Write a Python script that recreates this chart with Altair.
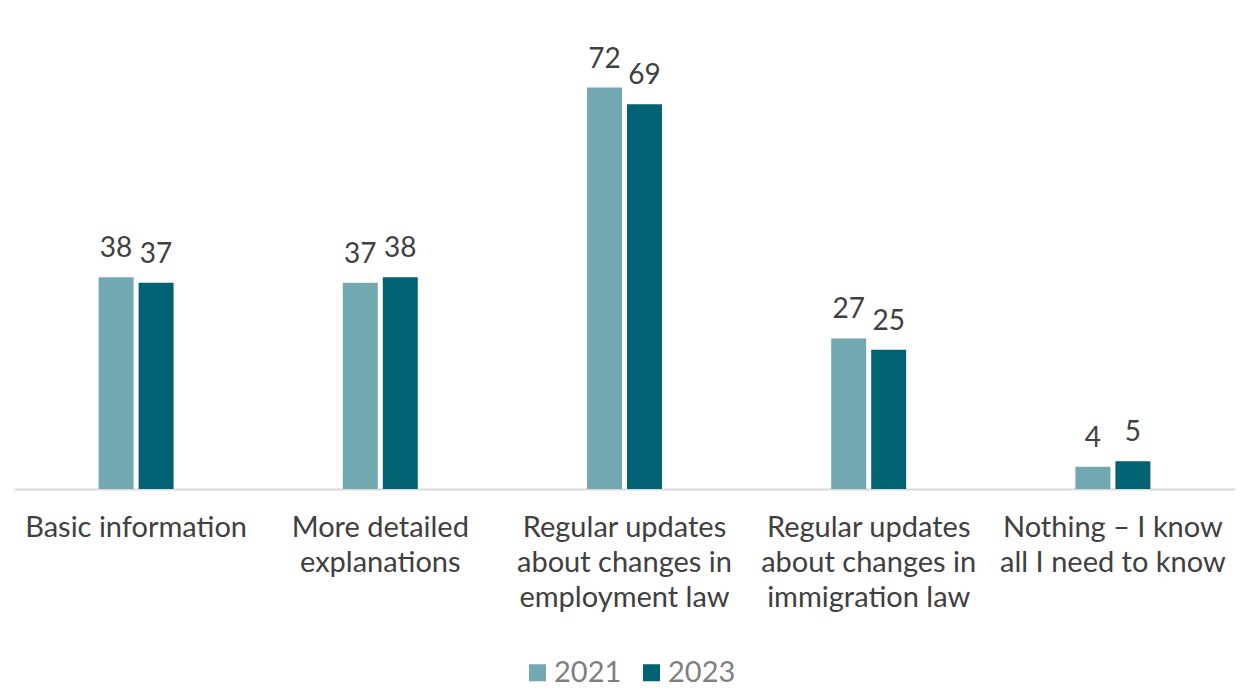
import altair as alt
import pandas as pd

categories = [
    "Basic information",
    "More detailed|explanations",
    "Regular updates|about changes in|employment law",
    "Regular updates|about changes in|immigration law",
    "Nothing – I know|all I need to know",
]
years = ["2021", "2023"]
values_2021 = [38, 37, 72, 27, 4]
values_2023 = [37, 38, 69, 25, 5]
colors = ["#72A8B2", "#006272"]

rows = []
for c, a, b in zip(categories, values_2021, values_2023):
    rows.append({"cat": c, "year": "2021", "value": a})
    rows.append({"cat": c, "year": "2023", "value": b})
df = pd.DataFrame(rows)

FONT = "Lato"

x = alt.X(
    "cat:N",
    sort=categories,
    title=None,
    scale=alt.Scale(paddingInner=0.693, paddingOuter=0.3465),
    axis=alt.Axis(
        labelExpr="split(datum.label, '|')",
        labelAngle=0,
        labelFontSize=29,
        labelFont=FONT,
        labelColor="#404040",
        labelLineHeight=35,
        labelPadding=24,
        ticks=False,
        domainColor="#D9D9D9",
        domainWidth=2,
        labelLimit=400,
    ),
)
xo = alt.XOffset("year:N", sort=years, scale=alt.Scale(paddingInner=0.125, paddingOuter=0))
y = alt.Y("value:Q", scale=alt.Scale(domain=[0, 80]), axis=None)

bars = alt.Chart(df).mark_bar().encode(
    x=x,
    xOffset=xo,
    y=y,
    color=alt.Color(
        "year:N",
        sort=years,
        scale=alt.Scale(domain=years, range=colors),
        legend=alt.Legend(
            title=None,
            orient="none",
            direction="horizontal",
            legendX=509,
            legendY=615,
            padding=0,
            symbolType="square",
            symbolSize=289,
            symbolStrokeWidth=0,
            labelFontSize=29,
            labelFont=FONT,
            labelColor="#7F7F7F",
            columnPadding=15,
            labelOffset=2,
        ),
    ),
)

text = alt.Chart(df).mark_text(
    baseline="bottom", dy=-14, fontSize=28, font=FONT, color="#404040"
).encode(x=x, xOffset=xo, y=y, text="value:Q")

chart = (
    alt.layer(bars, text)
    .properties(
        width=1221,
        height=446,
        autosize=alt.AutoSizeParams(type="none"),
        padding={"left": 6, "top": 35, "right": 5, "bottom": 199},
    )
    .configure_view(stroke=None)
)

chart.save("out.html", embed_options={"renderer": "svg", "actions": False})
